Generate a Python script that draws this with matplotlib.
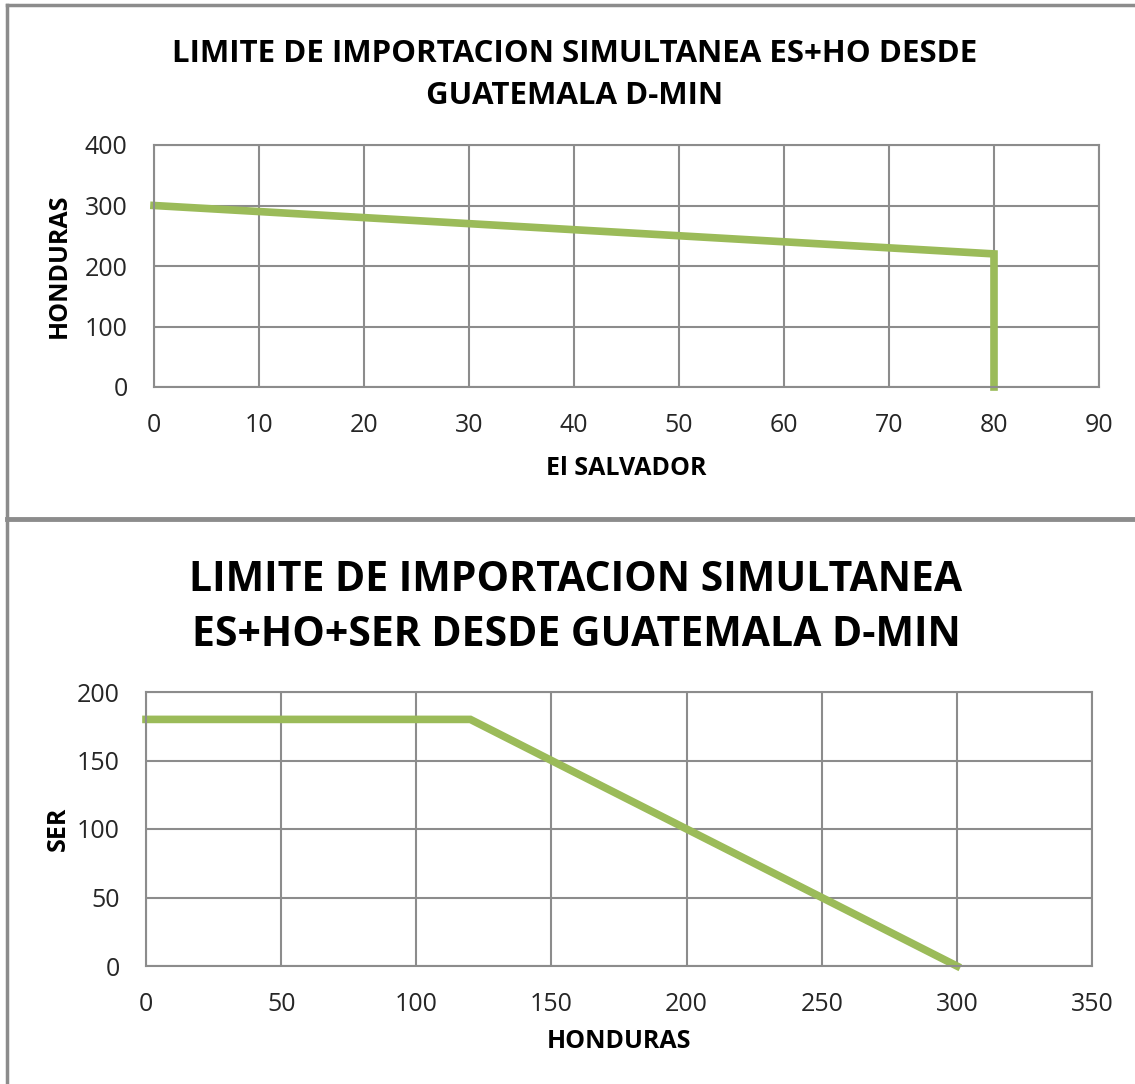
import matplotlib.pyplot as plt
from matplotlib.lines import Line2D

plt.rcParams['font.family'] = ['Open Sans', 'DejaVu Sans']

# top chart: El Salvador vs Honduras
es_x = [0, 80, 80]
ho_y = [300, 220, 0]
top_xticks = [0, 10, 20, 30, 40, 50, 60, 70, 80, 90]
top_yticks = [0, 100, 200, 300, 400]

# bottom chart: Honduras vs SER
ho_x = [0, 120, 300]
ser_y = [180, 180, 0]
bot_xticks = [0, 50, 100, 150, 200, 250, 300, 350]
bot_yticks = [0, 50, 100, 150, 200]

GREEN = '#9BBB59'
GRID = '#8C8C8C'

fig = plt.figure(figsize=(11.35, 10.84), dpi=100)
W, H = 1135, 1084


def px_axes(left, top, right, bottom):
    return fig.add_axes([left / W, 1 - bottom / H, (right - left) / W, (bottom - top) / H])


def style(ax, xt, yt):
    ax.set_xlim(xt[0], xt[-1])
    ax.set_ylim(yt[0], yt[-1])
    ax.set_xticks(xt)
    ax.set_yticks(yt)
    ax.grid(True, color=GRID, linewidth=1.5)
    ax.set_axisbelow(True)
    for s in ax.spines.values():
        s.set_color(GRID)
        s.set_linewidth(1.5)
    ax.tick_params(length=0, labelsize=18, colors='#262626')
    ax.tick_params(axis='x', pad=19)
    ax.tick_params(axis='y', pad=19)


ax1 = px_axes(154, 145, 1099, 387)
style(ax1, top_xticks, top_yticks)
ax1.plot(es_x, ho_y, color=GREEN, linewidth=5.5, solid_joinstyle='miter', clip_on=False)
ax1.set_xlabel('El SALVADOR', fontsize=18, fontweight='bold', va='center')
ax1.xaxis.set_label_coords(0.5, -0.335)
ax1.set_ylabel('HONDURAS', fontsize=18, fontweight='bold', va='center')
ax1.yaxis.set_label_coords(-0.1, 0.5)
fig.text(575 / W, 1 - 75 / H, 'LIMITE DE IMPORTACION SIMULTANEA ES+HO DESDE\nGUATEMALA D-MIN',
         ha='center', va='center', fontsize=22.5, fontweight='bold', linespacing=1.55)

ax2 = px_axes(146, 692, 1092, 966)
style(ax2, bot_xticks, bot_yticks)
ax2.plot(ho_x, ser_y, color=GREEN, linewidth=5.5, solid_joinstyle='miter', clip_on=False)
ax2.set_xlabel('HONDURAS', fontsize=18, fontweight='bold', va='center')
ax2.xaxis.set_label_coords(0.5, -0.277)
ax2.set_ylabel('SER', fontsize=18, fontweight='bold', va='center')
ax2.yaxis.set_label_coords(-0.093, 0.5)
fig.text(576 / W, 1 - 608 / H, 'LIMITE DE IMPORTACION SIMULTANEA\nES+HO+SER DESDE GUATEMALA D-MIN',
         ha='center', va='center', fontsize=29.5, fontweight='bold', linespacing=1.42)

# frame lines around the two panels
fig.add_artist(Line2D([7 / W, 1], [1 - 5 / H, 1 - 5 / H], color=GRID, linewidth=2.5))
fig.add_artist(Line2D([7 / W, 7 / W], [0, 1 - 5 / H], color=GRID, linewidth=2.5))
fig.add_artist(Line2D([7 / W, 1], [1 - 519 / H, 1 - 519 / H], color=GRID, linewidth=3.5))

fig.savefig('out.png', dpi=100)
